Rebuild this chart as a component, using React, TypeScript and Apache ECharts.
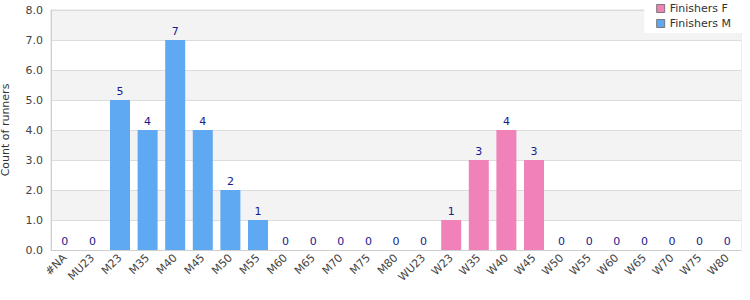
import React, { useEffect, useRef } from "react";
import * as echarts from "echarts";

const categories = ["#NA","MU23","M23","M35","M40","M45","M50","M55","M60","M65","M70","M75","M80","WU23","W23","W35","W40","W45","W50","W55","W60","W65","W70","W75","W80"];
const finishersM: (number | null)[] = [0,0,5,4,7,4,2,1,0,0,0,0,0,0,null,null,null,null,null,null,null,null,null,null,null];
const finishersF: (number | null)[] = [null,null,null,null,null,null,null,null,null,null,null,null,null,null,1,3,4,3,0,0,0,0,0,0,0];
const yTicks = { min: 0, max: 8, interval: 1 };

export default function App() {
  const ref = useRef<HTMLDivElement>(null);
  useEffect(() => {
    const chart = echarts.init(ref.current!, null, { renderer: "svg" });
    const font = "DejaVu Sans";
    const label = { show: true, position: "top", color: "#1a1a8c", fontSize: 11, fontFamily: font, distance: 3 };
    chart.setOption({
      animation: false,
      textStyle: { fontFamily: font },
      grid: { left: 51, right: 9, top: 10, bottom: 50, containLabel: false, outerBoundsMode: "none", show: true, borderColor: "#dcdcdc", borderWidth: 1, backgroundColor: "transparent" },
      legend: {
        data: ["Finishers F", "Finishers M"],
        orient: "vertical",
        right: 7,
        top: 0,
        backgroundColor: "#ffffff",
        padding: [3, 12, 4, 12],
        itemGap: 4,
        itemWidth: 8,
        itemHeight: 8,
        icon: "rect",
        itemStyle: { borderColor: "#777", borderWidth: 1 },
        textStyle: { fontSize: 11, color: "#333", fontFamily: font },
      },
      xAxis: {
        type: "category",
        data: categories,
        axisLine: { lineStyle: { color: "#cfcfcf", width: 1 } },
        axisTick: { show: false },
        axisLabel: { rotate: 45, fontSize: 11, color: "#444", fontFamily: font, interval: 0, margin: 6 },
      },
      yAxis: {
        type: "value",
        min: yTicks.min,
        max: yTicks.max,
        interval: yTicks.interval,
        name: "Count of runners",
        nameLocation: "middle",
        nameGap: 40,
        nameTextStyle: { fontSize: 11, color: "#333", fontFamily: font },
        axisLine: { show: true, lineStyle: { color: "#cfcfcf" } },
        axisTick: { show: false },
        axisLabel: { formatter: (v: number) => v.toFixed(1), fontSize: 11, color: "#444", fontFamily: font, margin: 8 },
        splitLine: { show: true, lineStyle: { color: "#dcdcdc" } },
        splitArea: { show: true, areaStyle: { color: ["#ffffff", "#f3f3f3"] } },
      },
      series: [
        { name: "Finishers F", type: "bar", data: finishersF, barWidth: 20, barGap: "-100%", itemStyle: { color: "#f182b9" }, label },
        { name: "Finishers M", type: "bar", data: finishersM, barWidth: 20, itemStyle: { color: "#5fa8f2" }, label },
      ],
    });
    return () => chart.dispose();
  }, []);
  return <div ref={ref} style={{ width: 750, height: 300, position: "absolute", left: 0, top: 0 }} />;
}
